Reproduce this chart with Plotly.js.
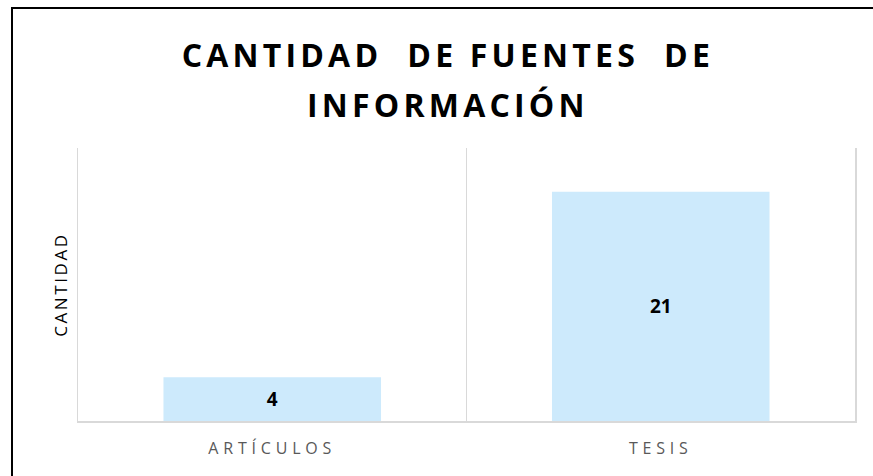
<!DOCTYPE html>
<html>
<head>
<meta charset="utf-8">
<script src="https://cdn.plot.ly/plotly-3.0.1.min.js"></script>
<style>
  html, body { margin: 0; padding: 0; background: #fff; overflow: hidden; }
  #chart { position: absolute; left: 0; top: 0; width: 873px; height: 476px; }
  #frame { position: absolute; left: 11px; top: 7px; width: 900px; height: 520px;
           border: 2px solid #000; box-sizing: border-box; pointer-events: none; }
  .xtick text { letter-spacing: 4.8px; }
  .gtitle { letter-spacing: 4.2px; }
  .ytitle { letter-spacing: 2.6px; }
</style>
</head>
<body>
<div id="chart"></div>
<div id="frame"></div>
<script>
const categories = ["ARTÍCULOS", "TESIS"];
const values = [4, 21];
const labels = ["4", "21"];

const trace = {
  type: "bar",
  x: categories,
  y: values,
  text: labels,
  textposition: "inside",
  insidetextanchor: "middle",
  textfont: { family: "Open Sans, sans-serif", size: 19, color: "#000", weight: 700 },
  marker: { color: "#cdeafc" },
  hoverinfo: "none"
};

const layout = {
  width: 873,
  height: 476,
  margin: { l: 78, r: 18, t: 148, b: 55 },
  paper_bgcolor: "#fff",
  plot_bgcolor: "#fff",
  bargap: 0.44,
  showlegend: false,
  title: {
    text: "CANTIDAD  DE FUENTES  DE<br>INFORMACIÓN",
    font: { family: "Open Sans, sans-serif", size: 32, color: "#000", weight: 700 },
    x: 0.513, xanchor: "center",
    y: 0.86, yanchor: "top",
    xref: "container", yref: "container"
  },
  xaxis: {
    type: "category",
    tickson: "boundaries",
    showgrid: true,
    gridcolor: "#d9d9d9",
    gridwidth: 1.5,
    showline: true,
    linecolor: "#d9d9d9",
    linewidth: 1.5,
    ticks: "",
    tickfont: { family: "Open Sans, sans-serif", size: 16, color: "#595959" },
    ticklabelstandoff: 12,
    zeroline: false,
    fixedrange: true
  },
  yaxis: {
    range: [0, 25],
    showgrid: false,
    showticklabels: false,
    zeroline: false,
    showline: true,
    mirror: true,
    linecolor: "#d9d9d9",
    linewidth: 1.5,
    ticks: "",
    title: { text: "CANTIDAD", font: { family: "Open Sans, sans-serif", size: 17, color: "#000" }, standoff: 4 },
    fixedrange: true
  }
};

Plotly.newPlot("chart", [trace], layout, { displayModeBar: false, staticPlot: true }).then(function () {
  const lines = document.querySelectorAll(".gtitle tspan.line");
  if (lines.length > 1) lines[1].setAttribute("dy", "50px");
});
</script>
</body>
</html>
